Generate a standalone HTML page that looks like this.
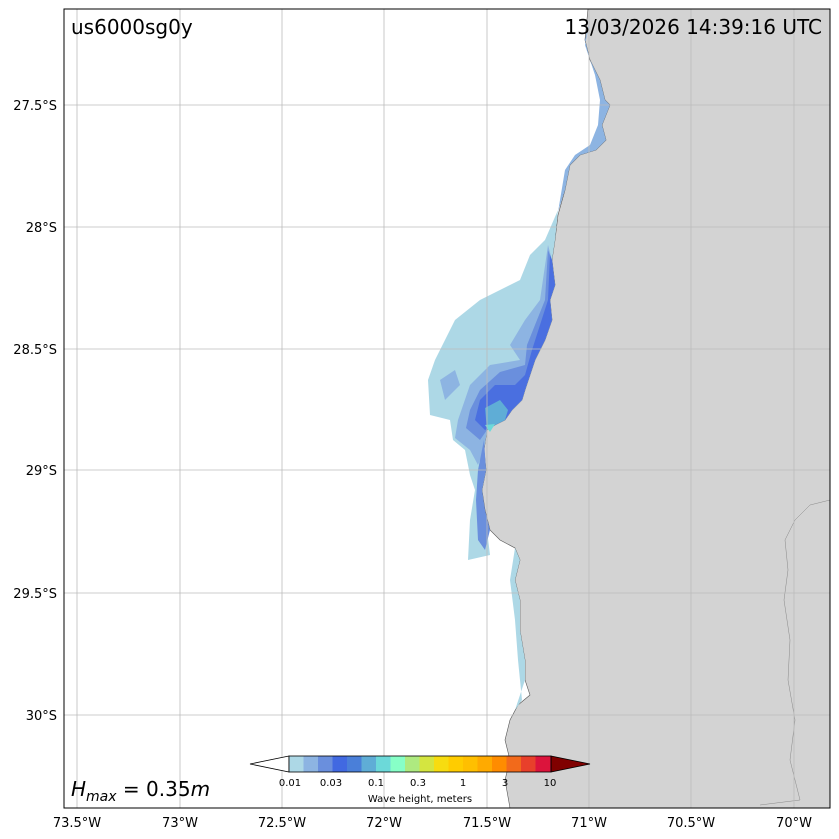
<!DOCTYPE html>
<html><head><meta charset="utf-8"><style>
body{margin:0;background:#fff;}
svg{display:block;font-family:"DejaVu Sans","Liberation Sans",sans-serif;}
</style></head><body>
<svg width="839" height="839" viewBox="0 0 839 839" xmlns="http://www.w3.org/2000/svg">
<defs><clipPath id="c"><rect x="64" y="9" width="766" height="799"/></clipPath></defs>
<rect width="839" height="839" fill="#fff"/>
<g clip-path="url(#c)">
<path d="M588,9 L585,40 L590,60 L600,80 L605,100 L610,105 L602,125 L606,140 L596,150 L580,155 L570,165 L565,190 L558,215 L555,240 L552,260 L555,285 L550,300 L552,320 L545,340 L535,360 L530,375 L525,390 L522,400 L512,410 L505,420 L495,425 L487,430 L484,450 L486,470 L482,490 L485,510 L490,530 L500,540 L515,548 L520,560 L515,580 L520,600 L520,630 L525,660 L525,680 L530,695 L518,705 L510,720 L505,740 L510,760 L505,780 L510,808 L830,808 L830,9 Z" fill="#d3d3d3" stroke="#555" stroke-width="0.6"/>
<path d="M830,500 L810,505 L795,520 L785,540 L788,570 L784,600 L790,640 L788,680 L795,720 L790,760 L800,800 L760,805" fill="none" stroke="#888" stroke-width="0.5"/>
<path d="M558,210 L545,240 L530,255 L520,280 L480,300 L455,320 L435,360 L428,380 L430,415 L450,420 L453,440 L465,450 L470,475 L475,490 L470,520 L468,560 L490,555 L487,530 L482,490 L486,470 L484,450 L487,430 L495,425 L505,420 L512,410 L522,400 L525,390 L530,375 L535,360 L545,340 L552,320 L550,300 L555,285 L552,260 L555,240 Z" fill="#add8e6"/>
<path d="M590,20 L585,45 L595,75 L600,100 L598,125 L590,145 L575,155 L565,170 L560,200 L558,212 L565,190 L570,165 L580,155 L596,150 L606,140 L602,125 L610,105 L605,100 L600,80 L590,60 L585,40 Z" fill="#8db4e2"/>
<path d="M548,245 L540,300 L525,320 L510,345 L520,360 L490,365 L470,385 L458,420 L455,438 L470,450 L478,465 L484,450 L487,430 L495,425 L505,420 L512,410 L522,400 L525,390 L530,375 L535,360 L545,340 L552,320 L550,300 L555,285 L552,260 Z" fill="#8db4e2"/>
<path d="M440,380 L455,370 L460,385 L445,400 Z" fill="#8db4e2"/>
<path d="M548,250 L545,300 L535,325 L527,345 L525,365 L500,372 L480,390 L470,410 L466,428 L480,440 L487,430 L495,425 L505,420 L512,410 L522,400 L525,390 L530,375 L535,360 L545,340 L552,320 L550,300 L555,285 L552,260 Z" fill="#6a8fdd"/>
<path d="M550,255 L548,300 L540,325 L532,350 L525,375 L515,385 L495,385 L480,400 L475,420 L485,430 L495,425 L505,420 L512,410 L522,400 L525,390 L530,375 L535,360 L545,340 L552,320 L550,300 L555,285 L552,260 Z" fill="#4a6fe0"/>
<path d="M485,408 L500,400 L508,410 L505,420 L495,425 L487,430 Z" fill="#5fadd6"/>
<path d="M485,425 L495,424 L490,432 Z" fill="#6cd9d9"/>
<path d="M484,440 L478,470 L476,500 L478,540 L485,550 L490,530 L485,510 L482,490 L486,470 Z" fill="#6a8fdd"/>
<path d="M515,548 L510,580 L515,620 L518,660 L522,700 L515,710 L520,695 L525,680 L525,660 L520,630 L520,600 L515,580 L520,560 Z" fill="#add8e6"/>
</g>
<g stroke="#bbb" stroke-width="0.8">
<line x1="77" y1="9" x2="77" y2="808"/><line x1="180" y1="9" x2="180" y2="808"/><line x1="282" y1="9" x2="282" y2="808"/><line x1="384" y1="9" x2="384" y2="808"/><line x1="487" y1="9" x2="487" y2="808"/><line x1="589" y1="9" x2="589" y2="808"/><line x1="691" y1="9" x2="691" y2="808"/><line x1="794" y1="9" x2="794" y2="808"/>
<line x1="64" y1="105" x2="830" y2="105"/><line x1="64" y1="227" x2="830" y2="227"/><line x1="64" y1="349" x2="830" y2="349"/><line x1="64" y1="470" x2="830" y2="470"/><line x1="64" y1="593" x2="830" y2="593"/><line x1="64" y1="715" x2="830" y2="715"/>
</g>
<rect x="64" y="9" width="766" height="799" fill="none" stroke="#000" stroke-width="1"/>
<g font-size="13" fill="#000" text-anchor="middle">
<text x="77" y="827">73.5°W</text><text x="180" y="827">73°W</text><text x="282" y="827">72.5°W</text><text x="384" y="827">72°W</text><text x="487" y="827">71.5°W</text><text x="589" y="827">71°W</text><text x="691" y="827">70.5°W</text><text x="794" y="827">70°W</text>
</g>
<g font-size="13" fill="#000" text-anchor="end">
<text x="57" y="110">27.5°S</text><text x="57" y="232">28°S</text><text x="57" y="354">28.5°S</text><text x="57" y="475">29°S</text><text x="57" y="598">29.5°S</text><text x="57" y="720">30°S</text>
</g>
<text x="71" y="34" font-size="20">us6000sg0y</text>
<text x="822" y="34" font-size="20" text-anchor="end">13/03/2026 14:39:16 UTC</text>
<text x="71" y="796" font-size="20"><tspan font-style="italic">H</tspan><tspan font-style="italic" font-size="14" dy="5">max</tspan><tspan dy="-5"> = 0.35</tspan><tspan font-style="italic">m</tspan></text>
<g>
<polygon points="289,756 250,764 289,772" fill="#fff" stroke="#000" stroke-width="0.8"/>
<rect x="289" y="756" width="14.5" height="16" fill="#add8e6"/>
<rect x="303.5" y="756" width="14.5" height="16" fill="#8db4e2"/>
<rect x="318" y="756" width="14.5" height="16" fill="#6a8fdd"/>
<rect x="332.5" y="756" width="14.5" height="16" fill="#4169e1"/>
<rect x="347" y="756" width="14.5" height="16" fill="#4a7fd9"/>
<rect x="361.5" y="756" width="14.5" height="16" fill="#5fadd6"/>
<rect x="376" y="756" width="14.5" height="16" fill="#6cd9d9"/>
<rect x="390.5" y="756" width="14.5" height="16" fill="#87ffc7"/>
<rect x="405" y="756" width="14.5" height="16" fill="#aeea80"/>
<rect x="419.5" y="756" width="14.5" height="16" fill="#d4e540"/>
<rect x="434" y="756" width="14.5" height="16" fill="#f7dc10"/>
<rect x="448.5" y="756" width="14.5" height="16" fill="#ffcc00"/>
<rect x="463" y="756" width="14.5" height="16" fill="#ffbf00"/>
<rect x="477.5" y="756" width="14.5" height="16" fill="#ffaa00"/>
<rect x="492" y="756" width="14.5" height="16" fill="#ff8c00"/>
<rect x="506.5" y="756" width="14.5" height="16" fill="#f26a1b"/>
<rect x="521" y="756" width="14.5" height="16" fill="#e8402b"/>
<rect x="535.5" y="756" width="15.5" height="16" fill="#dc143c"/>
<polygon points="551,756 590,764 551,772" fill="#800000" stroke="#000" stroke-width="0.8"/>
<rect x="289" y="756" width="262" height="16" fill="none" stroke="#000" stroke-width="0.8"/>
<g font-size="10" text-anchor="middle">
<text x="290" y="786">0.01</text><text x="331" y="786">0.03</text><text x="376" y="786">0.1</text><text x="418" y="786">0.3</text><text x="463" y="786">1</text><text x="505" y="786">3</text><text x="550" y="786">10</text>
<text x="420" y="802">Wave height, meters</text>
</g>
</g>
</svg>
</body></html>
